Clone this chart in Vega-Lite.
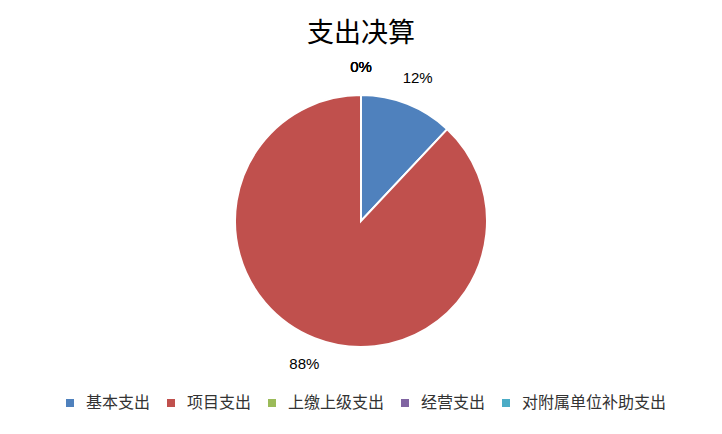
{
  "$schema": "https://vega.github.io/schema/vega-lite/v6.json",
  "autosize": "none",
  "width": 722,
  "height": 322,
  "padding": {"top": 60, "left": 0, "right": 0, "bottom": 52},
  "background": "white",
  "title": {
    "text": "支出决算",
    "font": "Noto Sans CJK SC",
    "fontSize": 27,
    "fontWeight": "normal",
    "color": "#000000",
    "anchor": "middle",
    "offset": 12
  },
  "data": {
    "values": [
      {"类别": "基本支出", "占比": 0.12, "序号": 1},
      {"类别": "项目支出", "占比": 0.88, "序号": 2},
      {"类别": "上缴上级支出", "占比": 0, "序号": 3},
      {"类别": "经营支出", "占比": 0, "序号": 4},
      {"类别": "对附属单位补助支出", "占比": 0, "序号": 5}
    ]
  },
  "encoding": {
    "theta": {"field": "占比", "type": "quantitative", "stack": true},
    "order": {"field": "序号", "type": "quantitative"}
  },
  "layer": [
    {
      "mark": {"type": "arc", "outerRadius": 126, "stroke": "white", "strokeWidth": 2},
      "encoding": {
        "color": {
          "field": "类别",
          "type": "nominal",
          "sort": ["基本支出", "项目支出", "上缴上级支出", "经营支出", "对附属单位补助支出"],
          "scale": {
            "domain": ["基本支出", "项目支出", "上缴上级支出", "经营支出", "对附属单位补助支出"],
            "range": ["#4F81BD", "#C0504D", "#9BBB59", "#8064A2", "#4BACC6"]
          },
          "legend": {
            "title": null,
            "orient": "none",
            "direction": "horizontal",
            "columns": 5,
            "legendX": 62,
            "legendY": 335,
            "symbolType": "square",
            "symbolSize": 64,
            "symbolStrokeWidth": 0,
            "labelFont": "Noto Sans CJK SC",
            "labelFontSize": 16,
            "labelColor": "#333333",
            "labelOffset": 8,
            "labelLimit": 300,
            "columnPadding": 12
          }
        }
      }
    },
    {
      "mark": {"type": "text", "radius": 154, "font": "Liberation Sans", "fontSize": 15, "color": "#000000"},
      "encoding": {
        "text": {"field": "占比", "type": "quantitative", "format": ".0%"}
      }
    }
  ]
}
